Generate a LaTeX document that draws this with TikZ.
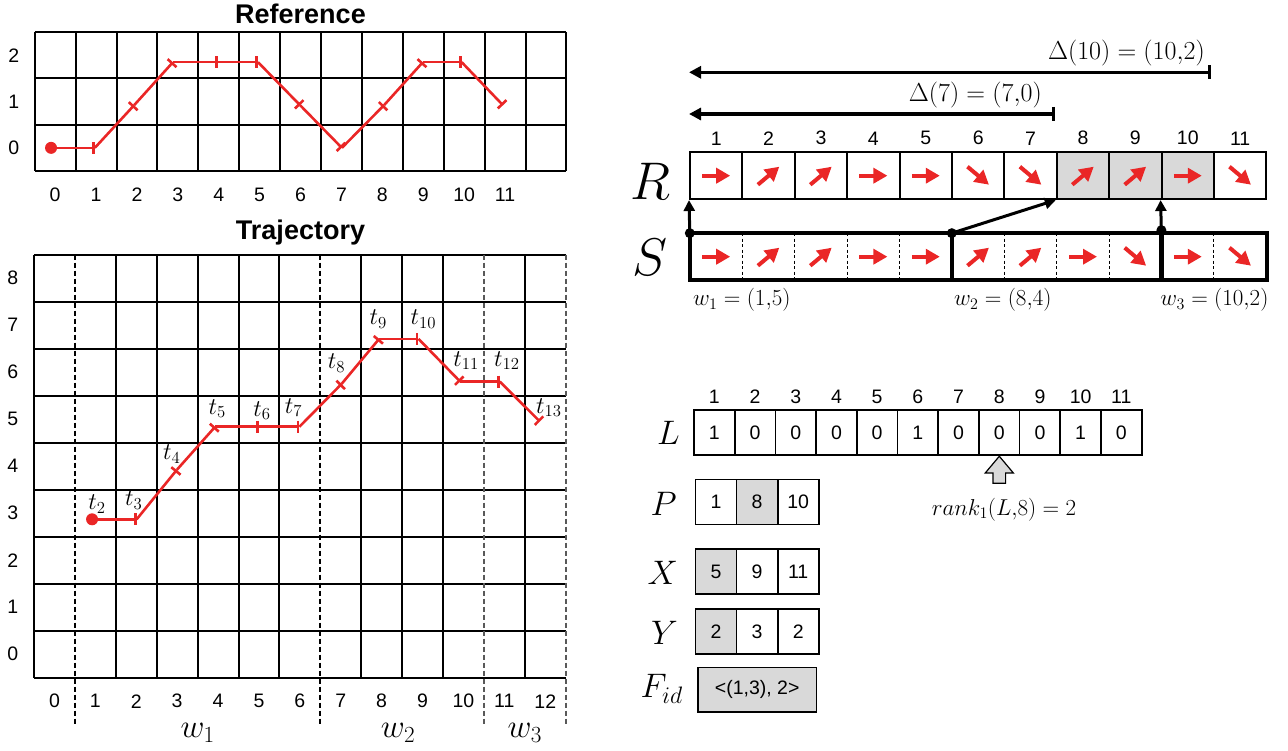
\documentclass[tikz,border=0pt]{standalone}
\usepackage{fix-cm}
\usepackage[no-math]{fontspec}
\setmainfont{Liberation Sans}
\usetikzlibrary{arrows.meta,positioning,shapes.arrows}

\definecolor{trajred}{RGB}{234,38,38}
\definecolor{cellgray}{RGB}{217,217,217}

\newcommand{\fsz}[1]{\fontsize{#1}{#1}\selectfont}

\tikzset{
  gridline/.style={line width=2pt},
  winline/.style={line width=2pt, dash pattern=on 5pt off 3pt},
  redseg/.style={trajred, line width=2.6pt, -{Bar[width=12pt]}},
  numlbl/.style={inner sep=0pt, font=\fsz{19.5}},
  titlelbl/.style={inner sep=0pt, anchor=base, font=\fsz{27}\bfseries},
  tlbl/.style={inner sep=0pt, font=\fsz{24}},
  wlbl/.style={inner sep=0pt, anchor=base, font=\fsz{33}},
  rcell/.style={draw, line width=2pt, minimum width=52.4pt, minimum height=46.7pt, inner sep=0pt},
  scell/.style={minimum width=52.4pt, minimum height=46.7pt, inner sep=0pt},
  dirarrow/.style={trajred, line width=4pt, -{Triangle[length=14pt,width=15pt]}},
  sepline/.style={line width=1pt, dash pattern=on 3pt off 2.5pt},
  frameline/.style={line width=4pt},
  linkarrow/.style={line width=3pt, -{Triangle[length=11pt,width=11pt]}},
  deltaarrow/.style={line width=3pt, {Triangle[length=12pt,width=12pt]}-{Bar[width=14pt]}},
  deltalbl/.style={inner sep=0pt, font=\fsz{26}},
  biglbl/.style={inner sep=0pt, anchor=base, font=\fsz{53}},
  arrlbl/.style={inner sep=0pt, anchor=base east, font=\fsz{34}},
  deflbl/.style={inner sep=0pt, font=\fsz{23}},
  lcell/.style={draw, line width=1.7pt, minimum width=40.7pt, minimum height=44.8pt, inner sep=0pt, font=\fsz{19.5}},
}

\begin{document}
\begin{tikzpicture}[x=1pt, y=-1pt]
  \useasboundingbox (0,0) rectangle (1288,751);

  % --- REFERENCE GRID (13 x 3 cells) ---
  \node[titlelbl] (reftitle) at (300.5,24) {Reference};
  \begin{scope}[shift={(34.7,171)}, x=40.9pt, y=46.3pt]
    \foreach \i in {0,...,13} \draw[gridline] (\i,0) -- (\i,3);
    \foreach \j in {0,...,3} \draw[gridline] (0,\j) -- (13,\j);
    \foreach \i in {0,...,11} \node[numlbl] (refx\i) at (\i+0.5,-0.52) {\i};
    \foreach \j in {0,1,2} \node[numlbl] (refy\j) at (-0.51,\j+0.5) {\j};

    % reference path, one tick per point
    \foreach \x/\y [count=\k from 0] in {0.4/0.5, 1.47/0.5, 2.43/1.42, 3.38/2.35, 4.48/2.35, 5.46/2.35,
        6.49/1.42, 7.51/0.5, 8.54/1.42, 9.49/2.35, 10.44/2.35, 11.45/1.42}
      \coordinate (ref\k) at (\x,\y);
    \fill[trajred] (ref0) circle (6pt);
    \foreach \k [remember=\k as \lk (initially 0)] in {1,...,11}
      \draw[redseg] (ref\lk) -- (ref\k);
  \end{scope}

  % --- TRAJECTORY GRID (13 x 9 cells) ---
  \node[titlelbl] (trajtitle) at (300.5,240) {Trajectory};
  \begin{scope}[shift={(34,677.7)}, x=40.9pt, y=47pt]
    \foreach \i in {0,2,3,4,5,6,8,9,10,12} \draw[gridline] (\i,0) -- (\i,9);
    \foreach \j in {0,...,9} \draw[gridline] (0,\j) -- (13,\j);
    % window borders (dashed, run below the grid)
    \foreach \i in {1,7} \draw[winline] (\i,9) -- (\i,-1.04);
    \foreach \i in {11,13} \draw[winline, black!65] (\i,9) -- (\i,-1.04);
    \foreach \i in {0,...,12} \node[numlbl] (trx\i) at (\i+0.5,-0.5) {\i};
    \foreach \j in {0,...,8} \node[numlbl] (try\j) at (-0.52,\j+0.5) {\j};
    \node[wlbl] (w1lbl) at (4,-1.27) {$w_1$};
    \node[wlbl] (w2lbl) at (8.9,-1.27) {$w_2$};
    \node[wlbl] (w3lbl) at (12,-1.27) {$w_3$};

    % trajectory points t2 .. t13
    \foreach \x/\y [count=\k from 2] in {1.42/3.37, 2.51/3.37, 3.49/4.42, 4.43/5.34, 5.50/5.34, 6.49/5.34,
        7.52/6.25, 8.44/7.21, 9.40/7.21, 10.42/6.30, 11.39/6.30, 12.37/5.45}
      \coordinate (t\k) at (\x,\y);
    \fill[trajred] (t2) circle (6pt);
    \foreach \k [remember=\k as \lk (initially 2)] in {3,...,13}
      \draw[redseg] (t\lk) -- (t\k);
    \foreach \k/\dx/\dy in {2/5/15, 3/-3/19, 4/-5/16, 5/2/18, 6/3/16, 7/-6/19,
        8/-5/21, 9/-1/20, 10/5/20, 11/6/21, 12/7/21, 13/9/14}
      \node[tlbl] (tl\k) at ([xshift=\dx pt, yshift=\dy pt]t\k) {$t_{\k}$};
  \end{scope}

  % --- DELTA ARROWS ---
  \coordinate (d10tip) at (689,72.3);
  \coordinate (d10bar) at (1211,72.3);
  \draw[deltaarrow] (d10tip) -- (d10bar);
  \node[deltalbl, anchor=south east] (d10lbl) at ([xshift=-6pt, yshift=6pt]d10bar) {$\Delta(10) = (10{,}2)$};
  \coordinate (d7tip) at (689,114);
  \coordinate (d7bar) at (1055,114);
  \draw[deltaarrow, line width=3.5pt] (d7tip) -- (d7bar);
  \node[deltalbl, anchor=south east] (d7lbl) at ([xshift=-13pt, yshift=6pt]d7bar) {$\Delta(7) = (7{,}0)$};

  % --- R: reference symbols ---
  \node[biglbl] (Rlbl) at (650,199.3) {$R$};
  \foreach \i/\a/\f in {1/0/white, 2/40/white, 3/40/white, 4/0/white, 5/0/white, 6/-40/white,
      7/-40/white, 8/40/cellgray, 9/40/cellgray, 10/0/cellgray, 11/-40/white} {
    \node[rcell, fill=\f] (r\i) at (716.2+52.4*\i-52.4, 175.7) {};
    \draw[dirarrow] (r\i.center) ++(\a+180:14pt) -- ++(\a:28pt);
    \node[numlbl, above=6pt of r\i] (rn\i) {\i};
  }

  % --- S: trajectory symbols, split in windows ---
  \node[biglbl] (Slbl) at (650,276) {$S$};
  \foreach \i/\a in {1/0, 2/40, 3/40, 4/0, 5/0, 6/40, 7/40, 8/0, 9/-40, 10/0, 11/-40} {
    \node[scell] (s\i) at (716.2+52.4*\i-52.4, 256.7) {};
    \draw[dirarrow] (s\i.center) ++(\a+180:14pt) -- ++(\a:28pt);
  }
  \foreach \i in {2,3,4,5,7,8,9,11} \draw[sepline] (s\i.north west) -- (s\i.south west);
  \draw[frameline] (s1.north west) rectangle (s5.south east);
  \draw[frameline] (s6.north west) rectangle (s9.south east);
  \draw[frameline] (s10.north west) rectangle (s11.south east);

  % window start -> position in R
  \fill (s1.north west) circle (5pt);
  \draw[linkarrow] (s1.north west) -- (r1.south west);
  \fill (s6.north west) circle (5pt);
  \draw[linkarrow] (s6.north west) -- (r8.south west);
  \fill ([yshift=3pt]s10.north west) circle (5pt);
  \draw[linkarrow] (s10.north west) -- (r10.south west);

  \node[deflbl, anchor=north west] (w1def) at ([xshift=3pt, yshift=-8pt]s1.south west) {$w_1 = (1{,}5)$};
  \node[deflbl, anchor=north west] (w2def) at ([xshift=2pt, yshift=-8pt]s6.south west) {$w_2 = (8{,}4)$};
  \node[deflbl, anchor=north east] (w3def) at ([xshift=2pt, yshift=-8pt]s11.south east) {$w_3 = (10{,}2)$};

  % --- L, P, X, Y, F_id ---
  \node[arrlbl] (Llbl) at (680,444.3) {$L$};
  \foreach \v [count=\i] in {1,0,0,0,0,1,0,0,0,1,0} {
    \node[lcell] (l\i) at (714.35+40.7*\i-40.7, 432.7) {\v};
    \node[numlbl, above=6pt of l\i] (ln\i) {\i};
  }
  \node[single arrow, draw, fill=cellgray, line width=1.2pt, rotate=90, minimum height=27pt,
    inner sep=5.7pt, single arrow head extend=7.8pt, single arrow tip angle=80] (rankarrow) at (999.3,473.5) {};
  \node[deflbl, anchor=base] (ranklbl) at (1004,515.5) {$rank_1(L{,}8) = 2$};

  \node[arrlbl] (Plbl) at (677,515) {$P$};
  \foreach \v/\f [count=\i] in {1/white, 8/cellgray, 10/white}
    \node[lcell, minimum width=41.1pt, fill=\f] (p\i) at (716+41.1*\i-41.1, 502) {\v};
  \node[arrlbl] (Xlbl) at (678,584.3) {$X$};
  \foreach \v/\f [count=\i] in {5/cellgray, 9/white, 11/white}
    \node[lcell, minimum width=41.1pt, fill=\f] (x\i) at (716+41.1*\i-41.1, 571.5) {\v};
  \node[arrlbl] (Ylbl) at (678,644.3) {$Y$};
  \foreach \v/\f [count=\i] in {2/cellgray, 3/white, 2/white}
    \node[lcell, minimum width=41.1pt, fill=\f] (y\i) at (716+41.1*\i-41.1, 631.5) {\v};
  \node[arrlbl] (Flbl) at (683,697.9) {$F_{id}$};
  \node[lcell, minimum width=118.5pt, fill=cellgray] (fid) at (757.2,689.8) {<(1,3), 2>};
\end{tikzpicture}
\end{document}
